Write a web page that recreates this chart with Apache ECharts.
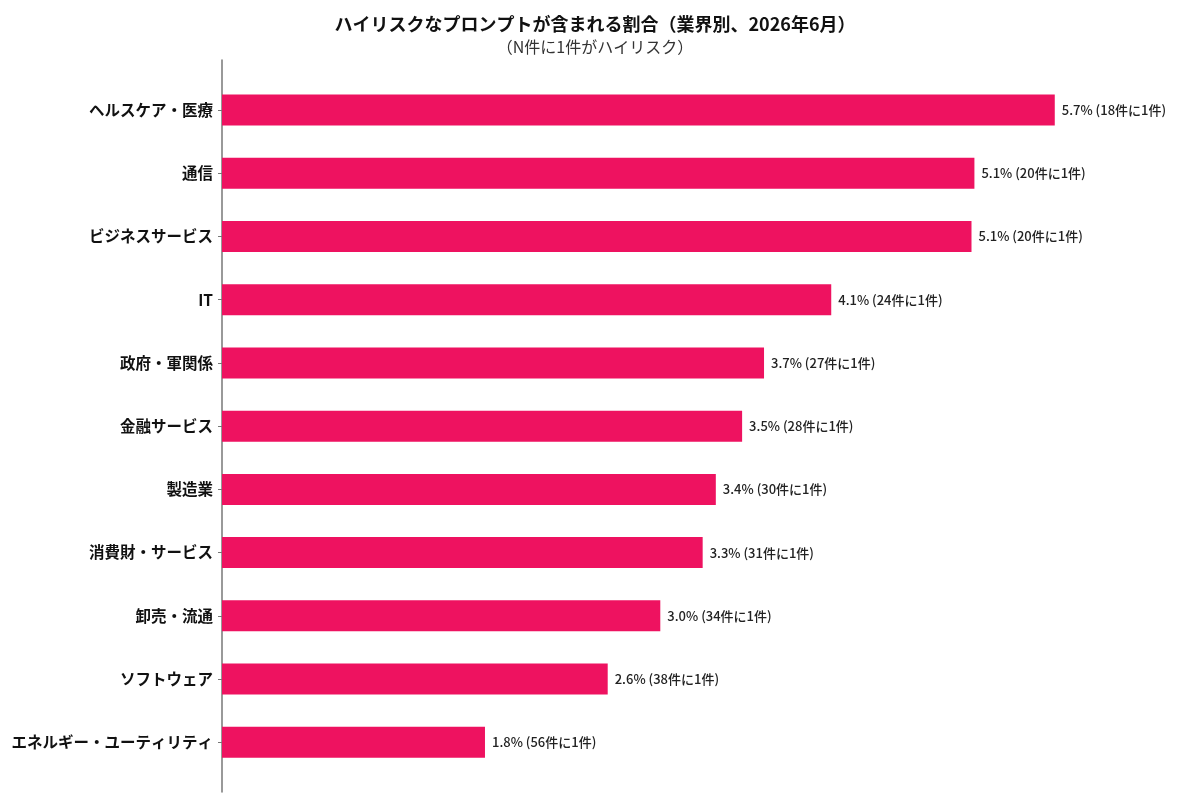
<!DOCTYPE html>
<html lang="ja">
<head>
  <meta charset="UTF-8">
  <title>ハイリスクなプロンプトが含まれる割合</title>
  <script src="https://cdn.jsdelivr.net/npm/echarts@6.0.0/dist/echarts.min.js"></script>
  <style>
    html, body { margin: 0; padding: 0; background: #fff; }
    #chart { width: 1179px; height: 800px; }
  </style>
</head>
<body>
  <div id="chart"></div>
  <script>
    // 業界（上から順）
    var industries = [
      'ヘルスケア・医療', '通信', 'ビジネスサービス', 'IT', '政府・軍関係',
      '金融サービス', '製造業', '消費財・サービス', '卸売・流通', 'ソフトウェア',
      'エネルギー・ユーティリティ'
    ];
    // 割合（%）: バーの長さから読み取った値
    var shares = [5.70, 5.15, 5.13, 4.17, 3.71, 3.56, 3.38, 3.29, 3.00, 2.64, 1.80];
    // 表示ラベル
    var shareLabels = ['5.7%', '5.1%', '5.1%', '4.1%', '3.7%', '3.5%', '3.4%', '3.3%', '3.0%', '2.6%', '1.8%'];
    // N件に1件
    var oneInN = [18, 20, 20, 24, 27, 28, 30, 31, 34, 38, 56];

    var font = '"Noto Sans CJK JP", "Noto Sans", sans-serif';
    var chart = echarts.init(document.getElementById('chart'));

    chart.setOption({
      animation: false,
      textStyle: { fontFamily: font },
      title: {
        text: 'ハイリスクなプロンプトが含まれる割合（業界別、2026年6月）',
        subtext: '（N件に1件がハイリスク）',
        left: 590, top: 10, textAlign: 'center', itemGap: 6,
        textStyle: { fontFamily: font, fontSize: 18, fontWeight: 'bold', color: '#111' },
        subtextStyle: { fontFamily: font, fontSize: 16, color: '#333' }
      },
      grid: [
        { left: 222, top: 78.4, height: 695.5, width: 876.6 },
        { left: 222, top: 60, height: 732, width: 876.6 }
      ],
      xAxis: [
        { gridIndex: 0, type: 'value', min: 0, max: 6, show: false },
        { gridIndex: 1, type: 'value', min: 0, max: 6, show: false }
      ],
      yAxis: [
        {
          gridIndex: 0, type: 'category', inverse: true, data: industries,
          axisLine: { show: false },
          axisTick: { show: true, alignWithLabel: true, length: 4, lineStyle: { color: '#777', width: 1 } },
          axisLabel: { fontFamily: font, fontSize: 15.5, fontWeight: 'bold', color: '#111', margin: 9 }
        },
        {
          gridIndex: 1, type: 'value', min: 0, max: 1,
          axisLine: { show: true, lineStyle: { color: '#777', width: 1.5 } },
          axisTick: { show: false }, axisLabel: { show: false }, splitLine: { show: false }
        }
      ],
      series: [{
        type: 'bar',
        xAxisIndex: 0, yAxisIndex: 0,
        data: shares,
        barWidth: 31,
        itemStyle: { color: '#EE1260' },
        label: {
          show: true, position: 'right', distance: 7,
          fontFamily: font, fontSize: 13, fontWeight: 500, color: '#222',
          formatter: function (p) {
            return shareLabels[p.dataIndex] + ' (' + oneInN[p.dataIndex] + '件に1件)';
          }
        }
      }]
    });
  </script>
</body>
</html>
